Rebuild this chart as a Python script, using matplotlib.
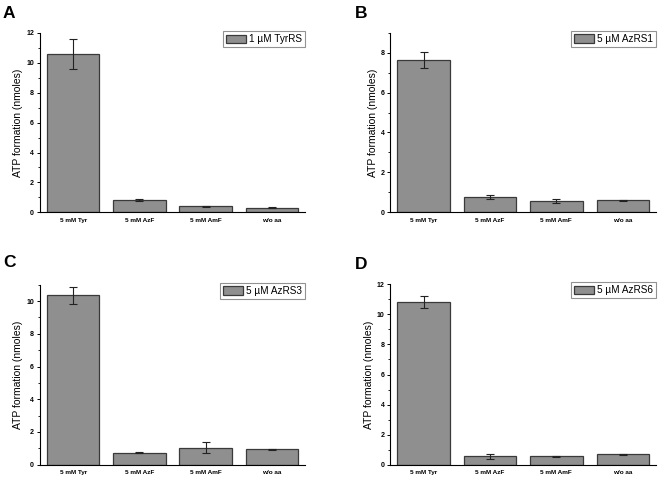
import matplotlib
matplotlib.use("Agg")
import matplotlib.pyplot as plt
from matplotlib.ticker import MultipleLocator

plt.rcParams['font.family'] = ['Liberation Sans', 'DejaVu Sans']

categories = ['5 mM Tyr', '5 mM AzF', '5 mM AmF', 'w/o aa']

# ATP formation (nmoles), mean and error per panel
vals_a = [10.6, 0.84, 0.39, 0.31]
err_a = [1.0, 0.06, 0.01, 0.02]
vals_b = [7.64, 0.79, 0.56, 0.60]
err_b = [0.39, 0.10, 0.10, 0.04]
vals_c = [10.37, 0.74, 1.04, 0.93]
err_c = [0.52, 0.03, 0.34, 0.04]
vals_d = [10.8, 0.55, 0.55, 0.69]
err_d = [0.40, 0.18, 0.01, 0.03]

labels = ['1 µM TyrRS', '5 µM AzRS1', '5 µM AzRS3', '5 µM AzRS6']
letters = ['A', 'B', 'C', 'D']
ymax = [12, 9, 11, 12]

W, H = 662, 478
fig = plt.figure(figsize=(W / 100, H / 100), dpi=100)

# axes boxes in pixels: left, bottom(from top), width, height
boxes = [(40, 212.3, 265, 179.3), (390.3, 212.3, 265.7, 179.6),
         (40, 464.7, 265, 180.0), (390.3, 464.7, 265.7, 180.4)]
letter_pos = [(3, 18), (355, 18), (3, 267), (355, 269)]

panels = [(vals_a, err_a), (vals_b, err_b), (vals_c, err_c), (vals_d, err_d)]

for i, (vals, errs) in enumerate(panels):
    l, b, w, h = boxes[i]
    ax = fig.add_axes([l / W, (H - b) / H, w / W, h / H])
    x = range(len(categories))
    ax.bar(x, vals, width=0.79, color='#8f8f8f', edgecolor='#3a3a3a',
           linewidth=0.9, label=labels[i], zorder=2)
    ax.errorbar(x, vals, yerr=errs, fmt='none', ecolor='#222222',
                elinewidth=0.8, capsize=2.8, capthick=0.8, zorder=3)
    ax.set_xlim(-0.5, 3.5)
    ax.set_ylim(0, ymax[i])
    ax.yaxis.set_major_locator(MultipleLocator(2))
    ax.yaxis.set_minor_locator(MultipleLocator(1))
    ax.set_xticks(list(x))
    ax.set_xticklabels(categories, fontsize=4.6, fontweight='bold')
    ax.tick_params(axis='x', length=0, pad=4)
    ax.tick_params(axis='y', which='major', length=2.5, width=0.7,
                   labelsize=5, pad=1.8)
    ax.tick_params(axis='y', which='minor', length=1.5, width=0.6)
    for t in ax.get_yticklabels():
        t.set_fontweight('bold')
    ax.spines['top'].set_visible(False)
    ax.spines['right'].set_visible(False)
    ax.spines['left'].set_linewidth(0.8)
    ax.spines['bottom'].set_linewidth(0.8)
    ax.set_ylabel('ATP formation (nmoles)', fontsize=7.5, labelpad=2)
    leg = ax.legend(loc='upper right', bbox_to_anchor=(1.0, 1.01),
                    fontsize=7.2, frameon=True, fancybox=False,
                    borderaxespad=0, handlelength=2.0, handleheight=0.9,
                    handletextpad=0.3, borderpad=0.3)
    leg.get_frame().set_edgecolor('#777777')
    leg.get_frame().set_linewidth(0.8)
    lx, ly = letter_pos[i]
    fig.text(lx / W, 1 - ly / H, letters[i], fontsize=12.5,
             fontweight='bold', ha='left', va='baseline')

fig.savefig('out.png', dpi=100)
